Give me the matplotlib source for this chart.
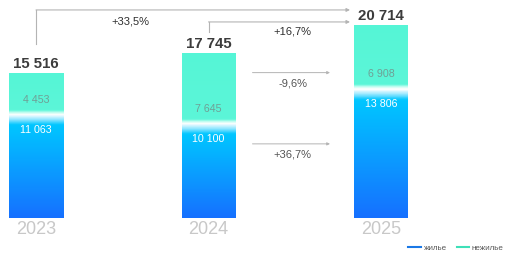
import numpy as np
import matplotlib
matplotlib.use("Agg")
import matplotlib.pyplot as plt
from matplotlib.colors import LinearSegmentedColormap
from matplotlib.lines import Line2D

plt.rcParams['font.family'] = ['Liberation Sans', 'DejaVu Sans']

years = ['2023', '2024', '2025']
residential = [11063, 10100, 13806]
nonresidential = [4453, 7645, 6908]
totals = [15516, 17745, 20714]
pct_total = '+33,5%'
pct_total_24 = '+16,7%'
pct_nonres = '-9,6%'
pct_res = '+36,7%'
legend_labels = ['жилье', 'нежилье']


def fmt(v):
    return f"{v:,}".replace(',', ' ')


W, H = 511, 260
fig = plt.figure(figsize=(W / 100, H / 100), dpi=100)
ax = fig.add_axes([0, 0, 1, 1])
ax.set_axis_off()

px_per_x = 172.5
px_per_y = 0.00932
ax.set_xlim(-36 / px_per_x, (W - 36) / px_per_x)
ax.set_ylim(-(H - 218) / px_per_y, 218 / px_per_y)


def py(p):  # pixel offset -> data units (vertical)
    return p / px_per_y


def pxx(p):
    return p / px_per_x


x = np.arange(len(years))
bw = 54 / px_per_x

blue_cmap = LinearSegmentedColormap.from_list(
    'b', [(0, '#1670ff'), (0.88, '#00c6ff'), (0.94, '#8fe6ff'), (1.0, '#ffffff')])
teal_cmap = LinearSegmentedColormap.from_list(
    't', [(0, '#ffffff'), (0.04, '#c8fdf2'), (0.09, '#5cf6d8'), (1.0, '#55f5d6')])

b_res = ax.bar(x, residential, width=bw, color='none', edgecolor='none')
b_non = ax.bar(x, nonresidential, width=bw, bottom=residential, color='none', edgecolor='none')

for bars, cmap in ((b_res, blue_cmap), (b_non, teal_cmap)):
    for r in bars:
        x0, y0, w, h = r.get_x(), r.get_y(), r.get_width(), r.get_height()
        if cmap is blue_cmap:
            frac = min(0.9, py(11) / h)
            g = np.concatenate([np.linspace(0, 0.88, 200),
                                np.linspace(0.88, 1.0, max(2, int(200 * frac / (1 - frac))))])
        else:
            frac = min(0.9, py(5) / h)
            g = np.concatenate([np.linspace(0, 0.09, max(2, int(200 * frac / (1 - frac)))),
                                np.linspace(0.09, 1, 200)])
        im = ax.imshow(g.reshape(-1, 1), cmap=cmap, vmin=0, vmax=1, aspect='auto',
                       extent=(x0, x0 + w, y0, y0 + h), origin='lower', zorder=2,
                       interpolation='bilinear')
        im.set_clip_path(r)

for i in range(len(years)):
    ax.text(x[i], totals[i] + py(9), fmt(totals[i]), ha='center', va='center',
            fontsize=10.8, fontweight='bold', color='#3c3c3c', zorder=5)
    ax.text(x[i], residential[i] + py(15), fmt(nonresidential[i]), ha='center', va='center',
            fontsize=7.7, color='#6f9f95', zorder=5)
    ax.text(x[i], residential[i] - py(15), fmt(residential[i]), ha='center', va='center',
            fontsize=7.7, color='white', zorder=5)
    ax.text(x[i], -py(11), years[i], ha='center', va='center',
            fontsize=13, color='#c8c8c8', zorder=5)

lc = '#b4b4b4'
end_x = x[2] - bw / 2 - pxx(4)
yA = totals[2] + py(15)
yB = totals[2] + py(3)
# +33.5% connector
ax.plot([x[0], x[0]], [totals[0] + py(29), yA], color=lc, lw=0.8, zorder=3)
ax.annotate('', xy=(end_x, yA), xytext=(x[0], yA),
            arrowprops=dict(arrowstyle='-|>', color=lc, lw=0.8, mutation_scale=5,
                            shrinkA=0, shrinkB=0), zorder=3)
ax.text((x[0] + x[1]) / 2 + pxx(8), yA - py(12), pct_total, ha='center', va='center',
        fontsize=8, color='#303030')
# +16.7% connector
ax.plot([x[1], x[1]], [totals[1] + py(21), yB], color=lc, lw=0.8, zorder=3)
ax.annotate('', xy=(end_x, yB), xytext=(x[1], yB),
            arrowprops=dict(arrowstyle='-|>', color=lc, lw=0.8, mutation_scale=5,
                            shrinkA=0, shrinkB=0), zorder=3)
mid = (x[1] + x[2]) / 2 + pxx(-2)
ax.text(mid, yB - py(10), pct_total_24, ha='center', va='center', fontsize=8, color='#303030')

# segment arrows
sx0 = x[1] + bw / 2 + pxx(17)
sx1 = x[2] - bw / 2 - pxx(24)
yC = totals[1] - py(20)
yD = residential[1] - py(20)
for yy, lab in ((yC, pct_nonres), (yD, pct_res)):
    ax.annotate('', xy=(sx1, yy), xytext=(sx0, yy),
                arrowprops=dict(arrowstyle='-|>', color=lc, lw=0.7, mutation_scale=4,
                                shrinkA=0, shrinkB=0), zorder=3)
    ax.text(mid, yy - py(11), lab, ha='center', va='center', fontsize=8, color='#555555')

handles = [Line2D([0], [0], color='#1a78e6', lw=1.5),
           Line2D([0], [0], color='#3ee0b8', lw=1.5)]
ax.legend(handles, legend_labels, loc='center right', bbox_to_anchor=(1.0, 12 / H),
          bbox_transform=fig.transFigure, ncol=2, frameon=False, fontsize=5.8,
          handlelength=1.6, handletextpad=0.3, columnspacing=1.2, labelcolor='#555555')

fig.savefig('out.png', dpi=100)
